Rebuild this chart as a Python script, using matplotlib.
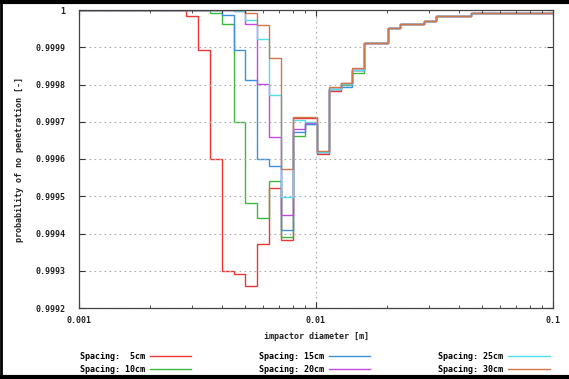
import matplotlib
matplotlib.use("Agg")
import matplotlib.pyplot as plt
from matplotlib.ticker import FixedLocator, FuncFormatter, LogLocator, NullFormatter
from matplotlib.lines import Line2D

# bin edges of impactor diameter [m]
edges = [0.001, 0.002828, 0.003175, 0.003564, 0.004000, 0.004490, 0.005040,
         0.005657, 0.006350, 0.007127, 0.008000, 0.008980, 0.010079, 0.011314,
         0.012699, 0.014254, 0.016000, 0.017959, 0.020159, 0.022627, 0.025398,
         0.028509, 0.032000, 0.035919, 0.040317, 0.045255, 0.050797, 0.057018,
         0.064000, 0.071838, 0.080635, 0.090510, 0.101594]

# large sizes behave the same for every spacing
tail = [0.999912, 0.999912, 0.999951, 0.999962, 0.999962, 0.999970,
        0.999984, 0.999984, 0.999984,
        0.999993, 0.999993, 0.999993, 0.999993, 0.999993, 0.999993, 0.999993]

spacing = [5, 10, 15, 20, 25, 30]

p_5cm = [1.0, 0.999985, 0.999893, 0.999600, 0.999299, 0.999290, 0.999260,
         0.999371, 0.999521, 0.999383, 0.999711, 0.999711,
         0.999613, 0.999783, 0.999803, 0.999840] + tail
p_10cm = [1.0, 1.0, 1.0, 0.999993, 0.999962, 0.999700, 0.999483,
          0.999441, 0.999541, 0.999391, 0.999662, 0.999693,
          0.999618, 0.999788, 0.999800, 0.999832] + tail
p_15cm = [1.0, 1.0, 1.0, 1.0, 0.999987, 0.999893, 0.999812,
          0.999600, 0.999582, 0.999409, 0.999673, 0.999693,
          0.999618, 0.999788, 0.999794, 0.999838] + tail
p_20cm = [1.0, 1.0, 1.0, 1.0, 1.0, 0.999997, 0.999962,
          0.999801, 0.999660, 0.999450, 0.999681, 0.999697,
          0.999619, 0.999788, 0.999801, 0.999840] + tail
p_25cm = [1.0, 1.0, 1.0, 1.0, 1.0, 0.999998, 0.999972,
          0.999922, 0.999772, 0.999499, 0.999705, 0.999700,
          0.999619, 0.999789, 0.999801, 0.999840] + tail
p_30cm = [1.0, 1.0, 1.0, 1.0, 1.0, 1.0, 0.999993,
          0.999961, 0.999872, 0.999572, 0.999712, 0.999712,
          0.999622, 0.999792, 0.999803, 0.999843] + tail

series = [p_5cm, p_10cm, p_15cm, p_20cm, p_25cm, p_30cm]
colors = ["#ee3333", "#3cb83c", "#3d8fe0", "#c448e4", "#4fe0ee", "#d2764c"]

yticks = [0.9992, 0.9993, 0.9994, 0.9995, 0.9996, 0.9997, 0.9998, 0.9999, 1.0]
xticks = [0.001, 0.01, 0.1]

font = {"family": "DejaVu Sans Mono", "weight": "bold", "size": 6}
fp = matplotlib.font_manager.FontProperties(**font)

fig = plt.figure(figsize=(5.69, 3.79), dpi=100)
ax = fig.add_axes([79 / 569, 1 - 308 / 379, (553 - 79) / 569, (308 - 10) / 379])

# plot each spacing as a histogram-style step line
for vals, col in zip(series, colors):
    ax.stairs(vals, edges, baseline=None, color=col, linewidth=1.0)

ax.set_xscale("log")
ax.set_xlim(0.001, 0.1)
ax.set_ylim(0.9992, 1.0)

ax.xaxis.set_major_locator(FixedLocator(xticks))
ax.xaxis.set_minor_locator(LogLocator(base=10, subs=range(2, 10)))
ax.xaxis.set_minor_formatter(NullFormatter())
ax.xaxis.set_major_formatter(FuncFormatter(lambda v, p: "%g" % v))
ax.yaxis.set_major_locator(FixedLocator(yticks))
ax.yaxis.set_major_formatter(FuncFormatter(lambda v, p: "%g" % round(v, 4)))

ax.tick_params(which="both", direction="in", top=True, right=True, colors="#333333")
ax.tick_params(which="major", length=4, width=0.8)
ax.tick_params(axis="y", which="major", pad=10)
ax.tick_params(axis="x", which="major", pad=6)
ax.tick_params(which="minor", length=2, width=0.6)
for lab in ax.get_xticklabels() + ax.get_yticklabels():
    lab.set_fontproperties(fp)
    lab.set_color("#222222")

for s in ax.spines.values():
    s.set_color("#444444")
    s.set_linewidth(0.9)

ax.grid(True, which="major", color="#aaaaaa", linestyle=(0, (1.5, 3)), linewidth=0.8)

ax.set_xlabel("impactor diameter [m]", fontdict=font, color="#222222", labelpad=5)
ax.set_ylabel("probability of no penetration [-]", fontdict=font, color="#222222", labelpad=8)

# legend below the plot, text first and line sample after it
handles = [Line2D([], [], color=c, linewidth=1.0) for c in colors]
labels = ["Spacing: %2dcm" % s for s in spacing]
fig.legend(handles, labels, loc="center", bbox_to_anchor=(0.553, 0.043), ncol=3,
           frameon=False, markerfirst=False, handlelength=5.0, handletextpad=0.6,
           columnspacing=8.1, labelspacing=0.5, borderpad=0, prop=fp)

# black frame on the screenshot edges
fig.add_artist(Line2D([0, 1], [0.996, 0.996], transform=fig.transFigure, color="black", linewidth=3))
fig.add_artist(Line2D([0.002, 0.002], [0, 1], transform=fig.transFigure, color="black", linewidth=2))
fig.add_artist(Line2D([0, 1], [0.004, 0.004], transform=fig.transFigure, color="black", linewidth=3))

fig.savefig("out.png", dpi=100)
